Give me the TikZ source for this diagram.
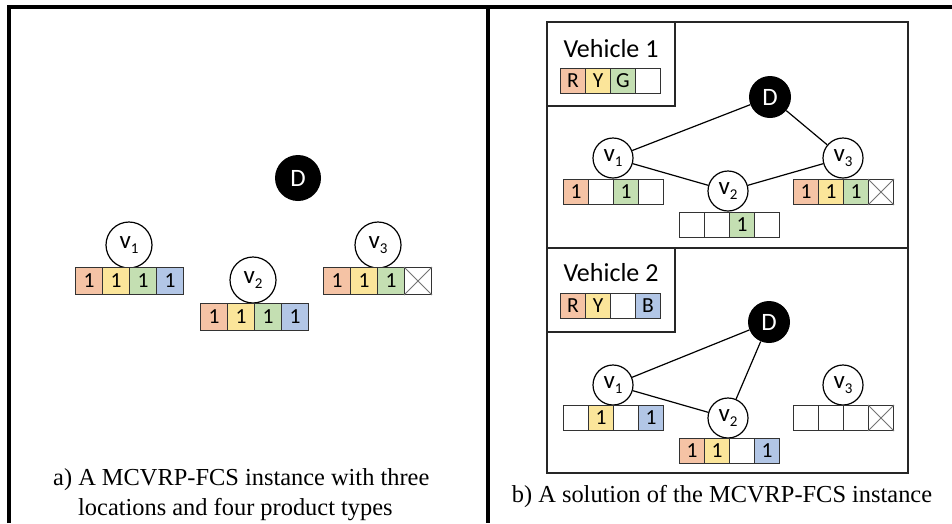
\documentclass[tikz,border=0pt]{standalone}
\usepackage{fontspec}
\setmainfont{Liberation Serif}
\newfontfamily\calib{Carlito}
\definecolor{cR}{HTML}{F5C3A5}
\definecolor{cY}{HTML}{FBE59A}
\definecolor{cG}{HTML}{C4DFB2}
\definecolor{cB}{HTML}{B2C6E6}
\definecolor{cN}{HTML}{FFFFFF}
\definecolor{cellline}{HTML}{333333}

% one row of product cells: prefix, left x, top y, cell size, list of colour/label
\newcommand\cellrow[5]{%
  \foreach \fc/\lb [count=\i] in {#5} {
    \node[cellbox, fill=\fc, minimum size=#4pt] (#1\i) at ({#2+(\i-1)*#4}, #3) {\lb};
  }%
}
% a crossed-out (unavailable) cell
\newcommand\crosscell[1]{%
  \draw[xline] (#1.north west) -- (#1.south east) (#1.north east) -- (#1.south west);
}
% vertex label v with a lowered index
\newcommand\vlab[1]{v\raisebox{-5pt}{\fontsize{15}{15}\selectfont #1}}

\begin{document}
\begin{tikzpicture}[x=1pt, y=-1pt,
  frame/.style={line width=3.5pt, black},
  panel/.style={draw=black!85, line width=1.3pt},
  vtx/.style={circle, draw, line width=1.2pt, fill=white, inner sep=0pt,
              font=\calib\fontsize{25}{25}\selectfont},
  depot/.style={circle, fill=black, text=white, inner sep=0pt,
              font=\calib\fontsize{25}{25}\selectfont},
  cellbox/.style={draw=cellline, line width=1pt, inner sep=0pt, anchor=north west,
              font=\calib\fontsize{21.5}{21.5}\selectfont},
  xline/.style={draw=black!55, line width=0.8pt},
  route/.style={line width=1.2pt},
  title/.style={font=\calib\fontsize{26}{26}\selectfont},
  caption/.style={font=\fontsize{24.4}{30}\selectfont, inner sep=0pt}]
\useasboundingbox (0,0) rectangle (952,523);

% outer frame and panel divider
\draw[frame] (9,523) -- (9,7) -- (952,7);
\draw[frame] (488,7) -- (488,523);

% ---------- panel a: the instance ----------
\node[depot, minimum size=46pt] (aD) at (298,178) {D};
\node[vtx, minimum size=46pt] (av1) at (129,245) {\vlab{1}};
\node[vtx, minimum size=46pt] (av2) at (253,280) {\vlab{2}};
\node[vtx, minimum size=46pt] (av3) at (378,245) {\vlab{3}};
\cellrow{ac1-}{75}{267}{27}{cR/1, cY/1, cG/1, cB/1}
\cellrow{ac2-}{200}{303}{27}{cR/1, cY/1, cG/1, cB/1}
\cellrow{ac3-}{323}{267}{27}{cR/1, cY/1, cG/1, cN/{}}
\crosscell{ac3-4}

\node[caption, anchor=base west] (capa1) at (53,485) {a) A MCVRP-FCS instance with three};
\node[caption, anchor=base west] (capa2) at (78,515) {locations and four product types};

% ---------- panel b: vehicle 1 ----------
\draw[panel] (547,22) rectangle (908,248);
\draw[panel] (547,22) rectangle (675,106);
\node[title] (veh1) at (611,49) {Vehicle 1};
\cellrow{k1-}{560}{68}{25}{cR/R, cY/Y, cG/G, cN/{}}

\node[depot, minimum size=42pt] (bD) at (770,97) {D};
\node[vtx, minimum size=40pt] (bv1) at (613,158) {\vlab{1}};
\node[vtx, minimum size=40pt] (bv2) at (728,191) {\vlab{2}};
\node[vtx, minimum size=40pt] (bv3) at (843,158) {\vlab{3}};
\cellrow{bc1-}{563}{179}{25}{cR/1, cN/{}, cG/1, cN/{}}
\cellrow{bc2-}{679}{212}{25}{cN/{}, cN/{}, cG/1, cN/{}}
\cellrow{bc3-}{793}{179}{25}{cR/1, cY/1, cG/1, cN/{}}
\crosscell{bc3-4}
\draw[route] (bD) -- (bv1) -- (bv2) -- (bv3) -- (bD);

% ---------- panel b: vehicle 2 ----------
\draw[panel] (547,248) rectangle (908,473);
\draw[panel] (547,248) rectangle (675,332);
\node[title] (veh2) at (611,273) {Vehicle 2};
\cellrow{k2-}{560}{293}{25}{cR/R, cY/Y, cN/{}, cB/B}

\node[depot, minimum size=42pt] (cD) at (769,322) {D};
\node[vtx, minimum size=40pt] (cv1) at (613,385) {\vlab{1}};
\node[vtx, minimum size=40pt] (cv2) at (728,418) {\vlab{2}};
\node[vtx, minimum size=40pt] (cv3) at (843,385) {\vlab{3}};
\cellrow{cc1-}{563}{405}{25}{cN/{}, cY/1, cN/{}, cB/1}
\cellrow{cc2-}{679}{438}{25}{cR/1, cY/1, cN/{}, cB/1}
\cellrow{cc3-}{793}{405}{25}{cN/{}, cN/{}, cN/{}, cN/{}}
\crosscell{cc3-4}
\draw[route] (cD) -- (cv1) -- (cv2) -- (cD);

\node[caption, anchor=base] (capb) at (722,502) {b) A solution of the MCVRP-FCS instance};
\end{tikzpicture}
\end{document}
